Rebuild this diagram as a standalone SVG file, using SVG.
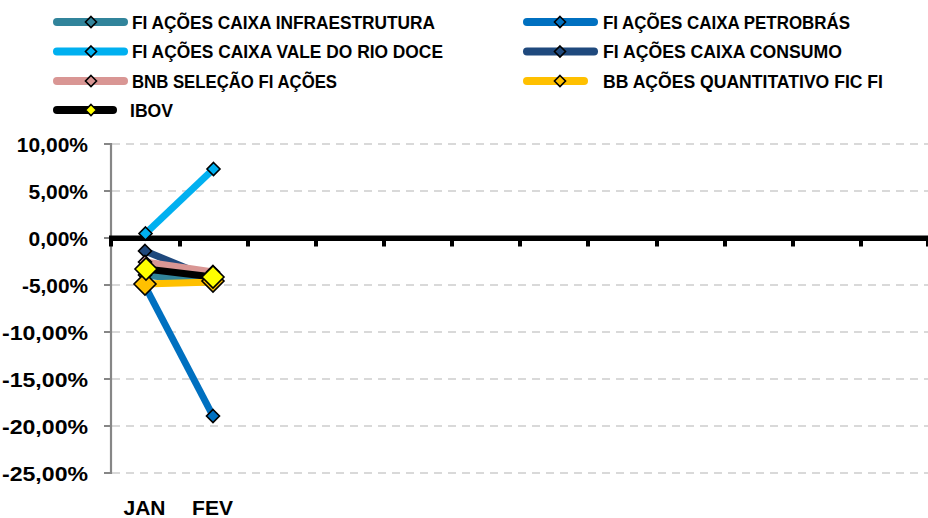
<svg xmlns="http://www.w3.org/2000/svg" width="928" height="518" viewBox="0 0 928 518">
<style>
text{font-family:"Liberation Sans",Arial,sans-serif;font-weight:bold;fill:#000}
.lg{font-size:18px}
.ax{font-size:21px}
.grid{stroke:#D9D9D9;stroke-width:2;stroke-dasharray:8 6}
.s{fill:none;stroke-width:7;stroke-linejoin:round}
.lgl{stroke-width:8;stroke-linecap:round}
.mk{stroke:#000;stroke-width:1.6}
</style>
<defs>
<path id="dS" d="M0,-6.5L6.5,0L0,6.5L-6.5,0Z"/>
<path id="dL" d="M0,-11L11,0L0,11L-11,0Z"/>
<path id="dT" d="M0,-5.5L5.5,0L0,5.5L-5.5,0Z"/>
</defs>
<rect width="928" height="518" fill="#fff"/>

<g id="legend">
<g id="leg-infra"><line class="lgl" x1="57" y1="22" x2="124" y2="22" stroke="#31849B"/><use href="#dT" x="91" y="22" class="mk" fill="#31849B"/><text class="lg" x="132" y="28.5" textLength="303" lengthAdjust="spacingAndGlyphs">FI AÇÕES CAIXA INFRAESTRUTURA</text></g>
<g id="leg-vale"><line class="lgl" x1="57" y1="51.5" x2="124" y2="51.5" stroke="#00B0F0"/><use href="#dT" x="91" y="51.5" class="mk" fill="#00B0F0"/><text class="lg" x="132" y="58" textLength="311" lengthAdjust="spacingAndGlyphs">FI AÇÕES CAIXA VALE DO RIO DOCE</text></g>
<g id="leg-bnb"><line class="lgl" x1="57" y1="81" x2="124" y2="81" stroke="#D99694"/><use href="#dT" x="91" y="81" class="mk" fill="#D99694"/><text class="lg" x="132" y="87.5" textLength="205" lengthAdjust="spacingAndGlyphs">BNB SELEÇÃO FI AÇÕES</text></g>
<g id="leg-ibov"><line class="lgl" x1="57" y1="110" x2="113" y2="110" stroke="#000"/><use href="#dT" x="91" y="110" class="mk" fill="#FFFF00"/><text class="lg" x="130" y="116.5" textLength="43" lengthAdjust="spacingAndGlyphs">IBOV</text></g>
<g id="leg-petro"><line class="lgl" x1="527" y1="22" x2="594" y2="22" stroke="#0070C0"/><use href="#dT" x="560" y="22" class="mk" fill="#0070C0"/><text class="lg" x="603" y="28.5" textLength="247" lengthAdjust="spacingAndGlyphs">FI AÇÕES CAIXA PETROBRÁS</text></g>
<g id="leg-consumo"><line class="lgl" x1="527" y1="51.5" x2="594" y2="51.5" stroke="#1F497D"/><use href="#dT" x="560" y="51.5" class="mk" fill="#1F497D"/><text class="lg" x="603" y="58" textLength="239" lengthAdjust="spacingAndGlyphs">FI AÇÕES CAIXA CONSUMO</text></g>
<g id="leg-bb"><line class="lgl" x1="527" y1="81" x2="584" y2="81" stroke="#FFC000"/><use href="#dT" x="560" y="81" class="mk" fill="#FFC000"/><text class="lg" x="603" y="87.5" textLength="280" lengthAdjust="spacingAndGlyphs">BB AÇÕES QUANTITATIVO FIC FI</text></g>
</g>

<g id="gridlines">
<line class="grid" x1="112" y1="144" x2="928" y2="144"/>
<line class="grid" x1="112" y1="191" x2="928" y2="191"/>
<line class="grid" x1="112" y1="285" x2="928" y2="285"/>
<line class="grid" x1="112" y1="332" x2="928" y2="332"/>
<line class="grid" x1="112" y1="379" x2="928" y2="379"/>
<line class="grid" x1="112" y1="426" x2="928" y2="426"/>
<line class="grid" x1="112" y1="473" x2="928" y2="473"/>
</g>

<g id="y-axis">
<line x1="111" y1="143" x2="111" y2="474" stroke="#868686" stroke-width="2.2"/>
<g stroke="#868686" stroke-width="2">
<line x1="104" y1="144" x2="111" y2="144"/><line x1="104" y1="191" x2="111" y2="191"/><line x1="104" y1="238" x2="111" y2="238"/><line x1="104" y1="285" x2="111" y2="285"/><line x1="104" y1="332" x2="111" y2="332"/><line x1="104" y1="379" x2="111" y2="379"/><line x1="104" y1="426" x2="111" y2="426"/><line x1="104" y1="473" x2="111" y2="473"/>
</g>
<g class="ax" text-anchor="end">
<text class="ax" x="88" y="151.5">10,00%</text>
<text class="ax" x="88" y="198.5">5,00%</text>
<text class="ax" x="88" y="245.5">0,00%</text>
<text class="ax" x="88" y="292.5" textLength="66" lengthAdjust="spacingAndGlyphs">-5,00%</text>
<text class="ax" x="88" y="339.5" textLength="86" lengthAdjust="spacingAndGlyphs">-10,00%</text>
<text class="ax" x="88" y="386.5" textLength="86" lengthAdjust="spacingAndGlyphs">-15,00%</text>
<text class="ax" x="88" y="433.5" textLength="86" lengthAdjust="spacingAndGlyphs">-20,00%</text>
<text class="ax" x="88" y="480.5" textLength="86" lengthAdjust="spacingAndGlyphs">-25,00%</text>
</g>
</g>

<g id="x-axis">
<line x1="109" y1="238.2" x2="928" y2="238.2" stroke="#000" stroke-width="5.6"/>
<g fill="#000">
<rect x="109" y="238" width="4" height="8.5"/><rect x="178" y="238" width="4" height="8.5"/><rect x="246" y="238" width="4" height="8.5"/><rect x="314" y="238" width="4" height="8.5"/><rect x="382" y="238" width="4" height="8.5"/><rect x="450" y="238" width="4" height="8.5"/><rect x="518" y="238" width="4" height="8.5"/><rect x="586" y="238" width="4" height="8.5"/><rect x="655" y="238" width="4" height="8.5"/><rect x="723" y="238" width="4" height="8.5"/><rect x="791" y="238" width="4" height="8.5"/><rect x="859" y="238" width="4" height="8.5"/><rect x="926" y="238" width="4" height="8.5"/>
</g>
<text class="ax" x="144.5" y="515" text-anchor="middle">JAN</text>
<text class="ax" x="212.5" y="515" text-anchor="middle">FEV</text>
</g>

<g id="connectors">
<g id="s-infra"><polyline class="s" points="145,275 213,283" stroke="#31849B"/><use href="#dS" x="145" y="275" class="mk" fill="#31849B"/><use href="#dS" x="213" y="283" class="mk" fill="#31849B"/></g>
<g id="s-petro"><polyline class="s" points="145,286 213,416" stroke="#0070C0"/><use href="#dS" x="145" y="286" class="mk" fill="#0070C0"/><use href="#dS" x="213" y="416" class="mk" fill="#0070C0"/></g>
<g id="s-vale"><polyline class="s" points="145.5,233.5 213.5,169" stroke="#00B0F0"/><use href="#dS" x="145.5" y="233.5" class="mk" fill="#00B0F0"/><use href="#dS" x="213.5" y="169" class="mk" fill="#00B0F0"/></g>
<g id="s-consumo"><polyline class="s" points="145,251 213,279" stroke="#1F497D"/><use href="#dS" x="145" y="251" class="mk" fill="#1F497D"/><use href="#dS" x="213" y="279" class="mk" fill="#1F497D"/></g>
<g id="s-bnb"><polyline class="s" points="145,262 213,272" stroke="#D99694"/><use href="#dS" x="145" y="262" class="mk" fill="#D99694"/><use href="#dS" x="213" y="272" class="mk" fill="#D99694"/></g>
<g id="s-bb"><polyline class="s" points="145,284 213,282" stroke="#FFC000"/><use href="#dL" x="145" y="284" class="mk" fill="#FFC000"/><use href="#dL" x="213" y="281" class="mk" fill="#FFC000"/></g>
<g id="s-ibov"><polyline class="s" points="146,269 213,277" stroke="#000" stroke-width="9"/><use href="#dL" x="146" y="269" class="mk" fill="#FFFF00"/><use href="#dL" x="213" y="277" class="mk" fill="#FFFF00"/></g>
</g>
</svg>
